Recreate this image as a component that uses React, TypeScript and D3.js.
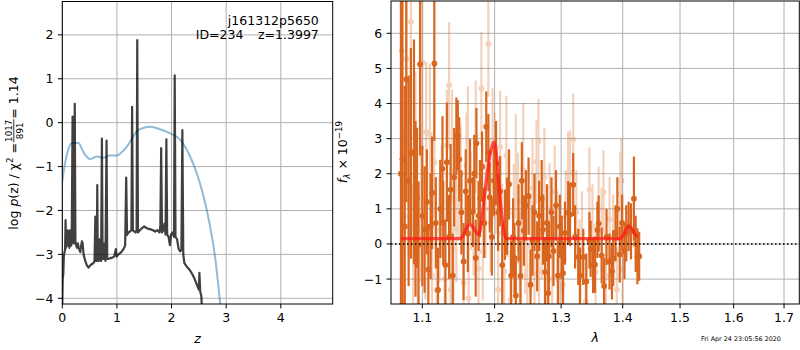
import React, { useEffect, useRef } from 'react';
import * as d3 from 'd3';

// p(z) panel
const zGrid = [
  0.000, 0.008, 0.018, 0.028, 0.040, 0.050, 0.060, 0.068, 0.078, 0.088, 0.098, 0.108, 0.118, 0.130,
  0.140, 0.150, 0.160, 0.172, 0.188, 0.198, 0.212, 0.228, 0.240, 0.255, 0.270, 0.285, 0.300, 0.315,
  0.330, 0.345, 0.360, 0.372, 0.390, 0.420, 0.450, 0.480, 0.510, 0.540, 0.570, 0.590, 0.605, 0.615,
  0.632, 0.640, 0.650, 0.665, 0.678, 0.690, 0.710, 0.725, 0.738, 0.760, 0.775, 0.790, 0.810, 0.822,
  0.850, 0.900, 0.950, 0.980, 0.995, 1.030, 1.080, 1.120, 1.150, 1.170, 1.185, 1.210, 1.240, 1.265,
  1.278, 1.292, 1.320, 1.340, 1.360, 1.372, 1.385, 1.420, 1.460, 1.500, 1.540, 1.580, 1.620, 1.660,
  1.700, 1.740, 1.780, 1.795, 1.810, 1.825, 1.850, 1.870, 1.890, 1.905, 1.920, 1.945, 1.970, 1.990,
  2.020, 2.045, 2.058, 2.072, 2.100, 2.130, 2.160, 2.180, 2.198, 2.215, 2.235, 2.280, 2.330, 2.380,
  2.420, 2.460, 2.500, 2.510, 2.525, 2.545, 2.555,
];
const logPz = [
  -4.13, -3.55, -3.45, -3.05, -2.95, -2.90, -2.22, -2.85, -2.60, -2.80, -2.45, -2.80, -2.55, -2.85,
  -2.45, -2.75, -2.80, -2.75, 0.14, -2.70, -2.75, 0.43, -2.70, -2.80, -2.85, -2.75, -2.85, -2.90,
  -2.95, -2.80, -2.70, -2.75, -3.00, -3.15, -3.25, -3.30, -3.25, -3.22, -3.20, -3.15, -2.14, -3.15,
  -3.10, -1.42, -3.15, -3.15, -2.66, -3.10, -3.15, -0.36, -3.10, -3.10, -2.75, -3.15, -0.41, -3.10,
  -3.10, -3.08, -3.05, -2.88, -3.05, -3.00, -2.95, -2.88, -2.80, -1.25, -2.56, -2.50, -2.48, -2.45,
  0.36, -2.45, -2.48, -2.50, -2.45, 1.88, -2.50, -2.45, -2.40, -2.36, -2.40, -2.42, -2.43, -2.45,
  -2.48, -2.45, -2.50, -2.35, -0.58, -2.50, -2.45, -2.30, -2.55, -0.38, -2.55, -2.60, -2.79, -2.55,
  -2.50, -2.60, 1.08, -2.60, -2.65, -2.88, -2.93, -2.90, -0.17, -3.00, -3.20, -3.28, -3.35, -3.45,
  -3.55, -3.68, -3.80, -3.42, -3.85, -3.95, -4.20,
];

const priorZ = [0.0, 0.02, 0.08, 0.17, 0.29, 0.4, 0.51, 0.63, 0.75, 0.87, 1.0, 1.08, 1.18, 1.27, 1.36, 1.48, 1.61, 1.79, 1.97, 2.16, 2.34, 2.46, 2.58, 2.7, 2.8, 2.89, 2.95];
const priorLogP = [-1.35, -1.15, -0.75, -0.47, -0.46, -0.7, -0.83, -0.77, -0.8, -0.75, -0.75, -0.68, -0.55, -0.38, -0.2, -0.12, -0.09, -0.15, -0.24, -0.39, -0.77, -1.15, -1.65, -2.33, -3.09, -4.11, -4.8];

// spectrum panel
const darkWave = [
  1.072, 1.074, 1.077, 1.079, 1.082, 1.085, 1.089, 1.091, 1.093, 1.095, 1.097, 1.100, 1.103, 1.106,
  1.108, 1.111, 1.113, 1.116, 1.118, 1.121, 1.124, 1.127, 1.128, 1.131, 1.133, 1.136, 1.138, 1.141,
  1.143, 1.146, 1.148, 1.150, 1.153, 1.156, 1.159, 1.162, 1.165, 1.169, 1.171, 1.173, 1.174, 1.177,
  1.179, 1.182, 1.185, 1.188, 1.191, 1.193, 1.196, 1.199, 1.202, 1.205, 1.208, 1.211, 1.215, 1.218,
  1.221, 1.224, 1.227, 1.229, 1.231, 1.235, 1.238, 1.240, 1.243, 1.246, 1.250, 1.253, 1.256, 1.259,
  1.263, 1.266, 1.270, 1.272, 1.275, 1.278, 1.280, 1.281, 1.285, 1.288, 1.292, 1.295, 1.298, 1.301,
  1.303, 1.306, 1.311, 1.314, 1.319, 1.322, 1.327, 1.330, 1.335, 1.340, 1.345, 1.347, 1.351, 1.354,
  1.358, 1.360, 1.365, 1.369, 1.373, 1.378, 1.382, 1.384, 1.388, 1.391, 1.395, 1.399, 1.403, 1.406,
  1.410, 1.414, 1.419, 1.422, 1.425, 1.428,
];
const darkFlux = [
  2.0, 2.41, 0.5, 4.69, 1.8, 2.58, 2.62, 1.0, 1.31, -0.02, 5.12, 0.8, 0.41, 1.2,
  -0.73, 0.5, 1.46, 5.14, 0.6, -1.31, 1.0, 2.14, 0.6, -0.6, 2.33, 0.2, 1.55, -0.9,
  1.9, 3.07, 3.09, 2.41, 0.9, -0.5, 1.5, 0.3, 1.8, 0.91, 2.0, -0.4, 2.87, 0.8,
  1.29, 2.2, 0.6, 3.34, 2.6, 1.33, 0.2, 1.8, 2.3, 0.9, 1.5, -0.6, 0.55, 0.79,
  1.7, -0.9, 0.2, -0.4, -1.47, 0.6, -0.91, 1.8, 0.38, 1.1, 1.36, -1.16, 0.1, 0.9,
  -0.35, 0.8, 1.29, 0.41, -0.8, 0.6, -1.4, -0.35, 0.9, -0.2, 1.1, -0.9, 0.5, -0.1,
  -0.83, 0.31, 0.89, 0.84, 1.69, 0.2, -0.37, -0.9, -0.37, -1.07, 0.1, -0.14, -0.6, -0.59,
  0.4, 0.58, -0.33, -1.2, 0.2, -0.5, -0.78, -0.4, 0.3, 1.0, -0.3, 0.6, -0.2, 0.3,
  0.5, 0.36, 1.29, 0.0, -0.35, -0.35,
];
const darkErr = [
  5.5, 5.0, 4.0, 3.5, 3.0, 3.0, 3.2, 2.5, 2.0, 1.8, 2.6, 2.0, 1.8, 1.5,
  1.3, 1.5, 1.6, 2.2, 1.3, 1.2, 1.4, 1.5, 1.2, 1.3, 1.7, 1.2, 1.3, 1.2,
  1.4, 1.1, 1.0, 1.2, 1.2, 1.1, 1.2, 1.1, 1.2, 1.0, 1.1, 1.1, 1.0, 1.0,
  1.1, 1.0, 1.0, 1.0, 1.1, 1.0, 1.1, 1.0, 1.2, 1.1, 1.0, 1.1, 1.0, 1.1,
  1.0, 1.0, 1.1, 1.0, 1.0, 1.1, 1.0, 1.1, 1.0, 1.0, 1.1, 1.0, 1.0, 1.1,
  1.0, 1.0, 1.1, 1.0, 1.0, 1.1, 1.0, 1.0, 1.0, 1.0, 1.0, 1.0, 0.9, 0.9,
  0.9, 0.9, 0.9, 0.9, 0.9, 0.9, 0.8, 0.8, 0.8, 0.8, 0.8, 0.8, 0.8, 0.8,
  0.8, 0.8, 0.8, 0.8, 0.8, 0.8, 0.8, 0.8, 0.8, 0.9, 0.8, 0.8, 0.8, 0.8,
  0.7, 0.8, 1.2, 0.8, 0.8, 0.7,
];

const lightWave = [
  1.073, 1.076, 1.079, 1.082, 1.085, 1.088, 1.091, 1.094, 1.098, 1.100, 1.104, 1.105, 1.110, 1.113,
  1.116, 1.119, 1.123, 1.126, 1.130, 1.133, 1.136, 1.138, 1.140, 1.142, 1.146, 1.149, 1.152, 1.156,
  1.160, 1.162, 1.163, 1.166, 1.170, 1.173, 1.177, 1.181, 1.183, 1.187, 1.191, 1.194, 1.197, 1.200,
  1.202, 1.205, 1.208, 1.211, 1.214, 1.217, 1.219, 1.223, 1.228, 1.231, 1.234, 1.237, 1.240, 1.242,
  1.245, 1.248, 1.253, 1.256, 1.259, 1.262, 1.265, 1.266, 1.270, 1.274, 1.278, 1.282, 1.286, 1.290,
  1.294, 1.298, 1.303, 1.307, 1.311, 1.314, 1.319, 1.324, 1.329, 1.333, 1.339, 1.345, 1.350, 1.355,
  1.360, 1.365, 1.368, 1.372, 1.378, 1.384, 1.390, 1.396, 1.398, 1.400,
];
const lightFlux = [
  5.5, 0.79, 5.27, 2.2, 6.33, -0.3, 2.71, -0.35, 0.93, 5.17, 0.22, 3.19, 3.12, -0.9,
  2.33, -1.31, 0.4, 1.2, -1.0, 2.8, 4.52, -1.31, 2.79, -0.16, 0.41, 1.6, 2.0, -1.11,
  2.24, 2.89, -1.54, 1.22, 0.5, 3.06, -0.7, 4.43, -0.21, 1.0, 5.69, 0.6, 2.93, 2.24,
  1.69, -1.3, 2.76, 0.31, -0.78, 2.52, 1.03, -1.6, 0.89, 2.2, 1.2, -0.5, 0.41, 2.12,
  -0.02, -1.21, -0.07, 1.6, -0.86, 2.34, 2.93, -0.78, 0.3, 1.9, -0.4, 1.0, -1.0, 1.5,
  0.2, -1.3, -1.16, 0.8, 2.0, 2.03, 2.98, 0.9, -0.5, 0.3, -1.64, 1.55, 0.5, -0.8,
  1.0, 0.4, 1.47, -0.9, 0.71, 0.2, -1.3, 1.41, 1.8, -0.71,
];
const lightErr = [
  3.0, 2.5, 3.0, 2.5, 2.5, 2.0, 2.2, 2.0, 2.0, 2.5, 1.8, 2.0, 2.0, 1.8,
  1.6, 1.8, 1.5, 1.6, 1.5, 1.6, 1.8, 1.6, 1.6, 1.5, 1.5, 1.5, 1.4, 1.5,
  1.5, 1.6, 1.5, 1.4, 1.4, 1.6, 1.4, 1.6, 1.4, 1.4, 1.5, 1.4, 1.5, 1.5,
  1.4, 1.4, 1.6, 1.4, 1.4, 1.7, 1.4, 1.4, 1.4, 1.5, 1.4, 1.4, 1.4, 1.9,
  1.4, 1.4, 1.4, 1.4, 1.4, 1.2, 1.2, 1.4, 1.3, 1.4, 1.3, 1.3, 1.3, 1.3,
  1.3, 1.3, 1.3, 1.3, 1.2, 1.2, 1.3, 1.2, 1.2, 1.2, 1.2, 1.2, 1.2, 1.2,
  1.2, 1.2, 1.2, 1.2, 1.2, 1.2, 1.2, 1.2, 1.2, 1.1,
];

const modelWave = [1.072, 1.150, 1.155, 1.160, 1.165, 1.170, 1.177, 1.181, 1.185, 1.190, 1.195, 1.199, 1.203, 1.206, 1.210, 1.214, 1.217, 1.221, 1.395, 1.400, 1.405, 1.410, 1.415, 1.420, 1.426];
const modelFlux = [0.15, 0.15, 0.22, 0.45, 0.56, 0.45, 0.27, 0.6, 1.3, 2.1, 2.7, 2.9, 2.5, 1.7, 0.9, 0.3, 0.15, 0.15, 0.15, 0.22, 0.38, 0.5, 0.45, 0.3, 0.2];

const zTicks = [0, 1, 2, 3, 4];
const pzTicks = [-4, -3, -2, -1, 0, 1, 2];
const waveTicks = [1.1, 1.2, 1.3, 1.4, 1.5, 1.6, 1.7];
const fluxTicks = [-1, 0, 1, 2, 3, 4, 5, 6];

const FONT = 'DejaVu Sans';
const FS = 12.5;
const GRID = '#b0b0b0';
const ORANGE = '#d9661f';

export default function App() {
  const svgRef = useRef<SVGSVGElement>(null);

  useEffect(() => {
    if (!svgRef.current) return;
    const svg = d3.select(svgRef.current);
    svg.selectAll('*').remove();
    svg.attr('font-family', FONT);

    const tickLen = 4.4;
    const tickPad = 4.4;

    const drawAxes = (
      g: d3.Selection<SVGGElement, unknown, null, undefined>,
      x: any, y: any, w: number, h: number,
      xt: number[], yt: number[], xfmt: (d: number) => string
    ) => {
      // grid
      xt.forEach(t => {
        g.append('line').attr('x1', x(t)).attr('x2', x(t)).attr('y1', 0).attr('y2', h)
          .attr('stroke', GRID).attr('stroke-width', 1);
      });
      yt.forEach(t => {
        g.append('line').attr('x1', 0).attr('x2', w).attr('y1', y(t)).attr('y2', y(t))
          .attr('stroke', GRID).attr('stroke-width', 1);
      });
      // ticks + labels
      xt.forEach(t => {
        g.append('line').attr('x1', x(t)).attr('x2', x(t)).attr('y1', h).attr('y2', h + tickLen)
          .attr('stroke', '#000').attr('stroke-width', 1);
        g.append('text').attr('x', x(t)).attr('y', h + tickLen + tickPad)
          .attr('dy', '0.76em').attr('text-anchor', 'middle').attr('font-size', FS)
          .text(xfmt(t));
      });
      yt.forEach(t => {
        g.append('line').attr('x1', -tickLen).attr('x2', 0).attr('y1', y(t)).attr('y2', y(t))
          .attr('stroke', '#000').attr('stroke-width', 1);
        g.append('text').attr('x', -tickLen - tickPad).attr('y', y(t))
          .attr('dy', '0.36em').attr('text-anchor', 'end').attr('font-size', FS)
          .text(d3.format('d')(t).replace('-', '\u2212'));
      });
    };

    // ---------- left panel: p(z)
    const L = { left: 62.3, top: 1.5, width: 270.4, height: 302.5 };
    const gl = svg.append('g').attr('transform', `translate(${L.left},${L.top})`);
    const xz = d3.scaleLinear().domain([0, 4.95]).range([0, L.width]);
    const yp = d3.scaleLinear().domain([-4.13, 2.76]).range([L.height, 0]);
    gl.append('clipPath').attr('id', 'clipL').append('rect')
      .attr('width', L.width).attr('height', L.height);
    drawAxes(gl, xz, yp, L.width, L.height, zTicks, pzTicks, d => String(d));

    const pzData = zGrid.map((z, i) => [z, logPz[i]] as [number, number]);
    const priorData = priorZ.map((z, i) => [z, priorLogP[i]] as [number, number]);
    const lineL = d3.line<[number, number]>().x(d => xz(d[0])).y(d => yp(d[1]));
    const lineS = d3.line<[number, number]>().x(d => xz(d[0])).y(d => yp(d[1])).curve(d3.curveMonotoneX);

    const clipL = gl.append('g').attr('clip-path', 'url(#clipL)');
    clipL.append('path').datum(priorData).attr('d', lineS as any)
      .attr('fill', 'none').attr('stroke', '#1f77b4').attr('stroke-opacity', 0.5).attr('stroke-width', 2);
    clipL.append('path').datum(pzData).attr('d', lineL as any)
      .attr('fill', 'none').attr('stroke', '#000').attr('stroke-opacity', 0.75)
      .attr('stroke-width', 2.2).attr('stroke-linejoin', 'round');

    gl.append('rect').attr('width', L.width).attr('height', L.height)
      .attr('fill', 'none').attr('stroke', '#000').attr('stroke-width', 1);

    gl.append('text').attr('x', 256.5).attr('y', 23.5).attr('text-anchor', 'end')
      .attr('font-size', FS).text('j161312p5650');
    gl.append('text').attr('x', 133.5).attr('y', 37.5).attr('text-anchor', 'start')
      .attr('font-size', FS).text('ID=234');
    gl.append('text').attr('x', 256.5).attr('y', 37.5).attr('text-anchor', 'end')
      .attr('font-size', FS).text('z=1.3997');

    gl.append('text').attr('x', L.width / 2).attr('y', 341).attr('text-anchor', 'middle')
      .attr('font-size', FS).attr('font-style', 'italic').text('z');

    // y label with fraction (rotated)
    const yl = svg.append('g').attr('transform', `translate(18,153) rotate(-90)`);
    const t1 = yl.append('text').attr('font-size', FS).attr('x', 0).attr('y', 0);
    t1.append('tspan').text('log ');
    t1.append('tspan').attr('font-style', 'italic').text('p');
    t1.append('tspan').text('(z) / \u03c7');
    t1.append('tspan').attr('font-size', FS * 0.7).attr('dy', -5.5).text('2');
    t1.append('tspan').attr('dy', 5.5).text(' = ');
    const w1 = (t1.node() as SVGTextElement).getComputedTextLength();
    const fs2 = FS * 0.7;
    const num = yl.append('text').attr('font-size', fs2).attr('text-anchor', 'middle').attr('y', -6.5).text('1017');
    const den = yl.append('text').attr('font-size', fs2).attr('text-anchor', 'middle').attr('y', 4.5).text('891');
    const fw = Math.max((num.node() as SVGTextElement).getComputedTextLength(),
      (den.node() as SVGTextElement).getComputedTextLength()) + 2;
    num.attr('x', w1 + fw / 2);
    den.attr('x', w1 + fw / 2);
    yl.append('line').attr('x1', w1 + 0.5).attr('x2', w1 + fw - 0.5).attr('y1', -4.2).attr('y2', -4.2)
      .attr('stroke', '#000').attr('stroke-width', 0.8);
    const t2 = yl.append('text').attr('font-size', FS).attr('x', w1 + fw).attr('y', 0).text(' = 1.14');
    const w2 = (t2.node() as SVGTextElement).getComputedTextLength();
    const total = w1 + fw + w2;
    yl.selectAll('text, line').attr('transform', `translate(${-total / 2},0)`);

    // ---------- right panel: spectrum
    const R = { left: 391, top: 1, width: 408.3, height: 303 };
    const gr = svg.append('g').attr('transform', `translate(${R.left},${R.top})`);
    const xw = d3.scaleLog().domain([1.0593, 1.7315]).range([0, R.width]);
    const yf = d3.scaleLinear().domain([-1.71, 6.92]).range([R.height, 0]);
    gr.append('clipPath').attr('id', 'clipR').append('rect')
      .attr('width', R.width).attr('height', R.height);
    drawAxes(gr, xw, yf, R.width, R.height, waveTicks, fluxTicks, d => d3.format('.1f')(d));

    const clipR = gr.append('g').attr('clip-path', 'url(#clipR)');
    const drawErr = (wave: number[], flux: number[], err: number[], op: number) => {
      const gg = clipR.append('g').attr('opacity', op);
      wave.forEach((w, i) => {
        gg.append('line').attr('x1', xw(w)).attr('x2', xw(w))
          .attr('y1', yf(flux[i] - err[i])).attr('y2', yf(flux[i] + err[i]))
          .attr('stroke', ORANGE).attr('stroke-width', 2.2);
      });
      wave.forEach((w, i) => {
        gg.append('circle').attr('cx', xw(w)).attr('cy', yf(flux[i])).attr('r', 2.9)
          .attr('fill', ORANGE);
      });
    };
    drawErr(lightWave, lightFlux, lightErr, 0.3);
    drawErr(darkWave, darkFlux, darkErr, 1);

    const modelData = modelWave.map((w, i) => [w, modelFlux[i]] as [number, number]);
    clipR.append('path').datum(modelData)
      .attr('d', d3.line<[number, number]>().x(d => xw(d[0])).y(d => yf(d[1])).curve(d3.curveMonotoneX) as any)
      .attr('fill', 'none').attr('stroke', '#ff1a1a').attr('stroke-opacity', 0.75)
      .attr('stroke-width', 3.2);

    clipR.append('line').attr('x1', 0).attr('x2', R.width).attr('y1', yf(0)).attr('y2', yf(0))
      .attr('stroke', '#000').attr('stroke-width', 1.5).attr('stroke-dasharray', '1.5,2.5');

    gr.append('rect').attr('width', R.width).attr('height', R.height)
      .attr('fill', 'none').attr('stroke', '#000').attr('stroke-width', 1);

    gr.append('text').attr('x', R.width / 2).attr('y', 341).attr('text-anchor', 'middle')
      .attr('font-size', FS).attr('font-style', 'italic').text('\u03bb');

    const fl = svg.append('text').attr('font-size', FS)
      .attr('transform', `translate(347,152) rotate(-90)`).attr('text-anchor', 'middle');
    fl.append('tspan').attr('font-style', 'italic').text('f');
    fl.append('tspan').attr('font-style', 'italic').attr('font-size', FS * 0.7).attr('dy', 3).text('\u03bb');
    fl.append('tspan').attr('dy', -3).text(' \u00d7 10');
    fl.append('tspan').attr('font-size', FS * 0.7).attr('dy', -5.5).text('\u221219');

    svg.append('text').attr('x', 701).attr('y', 340.5).attr('font-size', 6.4)
      .text('Fri Apr 24 23:05:56 2020');
  }, []);

  return (
    <svg ref={svgRef} width={800} height={350}
      style={{ position: 'absolute', left: 0, top: 0, background: '#fff' }} />
  );
}
